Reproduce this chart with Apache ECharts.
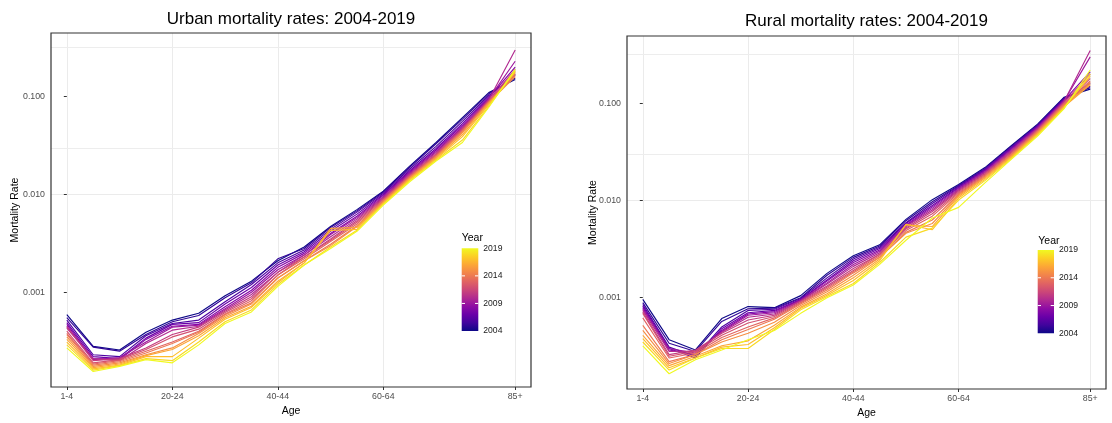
<!DOCTYPE html>
<html>
<head>
<meta charset="utf-8">
<script src="https://cdn.jsdelivr.net/npm/echarts@6/dist/echarts.min.js"></script>
<style>
  html, body { margin: 0; padding: 0; background: #ffffff; }
  #chart { width: 1112px; height: 423px; }
</style>
</head>
<body>
<div id="chart"></div>
<script>
// Age groups on the x axis and the ones that carry a tick label
const ageGroups = ['1-4', '5-9', '10-14', '15-19', '20-24', '25-29', '30-34', '35-39', '40-44',
  '45-49', '50-54', '55-59', '60-64', '65-69', '70-74', '75-79', '80-84', '85+'];
const tickAges = ['1-4', '20-24', '40-44', '60-64', '85+'];
const years = [2004, 2005, 2006, 2007, 2008, 2009, 2010, 2011, 2012, 2013, 2014, 2015, 2016, 2017, 2018, 2019];
const legendYears = [2004, 2009, 2014, 2019];
// labelled breaks on the log axis, and minor gridlines halfway between decades
const majorBreaks = [0.001, 0.01, 0.1];
const minorBreaks = [0.000316, 0.00316, 0.0316, 0.316];

// Urban mortality rate by age group, one array per year
const urban2004 = [0.00059, 0.00028, 0.000257, 0.00039, 0.00052, 0.00061, 0.00092, 0.0013, 0.0021, 0.0029, 0.0047, 0.007, 0.0108, 0.0195, 0.034, 0.061, 0.11, 0.15];
const urban2005 = [0.00055, 0.000275, 0.00025, 0.00037, 0.0005, 0.00058, 0.00088, 0.00125, 0.0022, 0.0028, 0.0046, 0.0068, 0.0106, 0.019, 0.033, 0.059, 0.107, 0.155];
const urban2006 = [0.00052, 0.00023, 0.00022, 0.00036, 0.00048, 0.00052, 0.0008, 0.0012, 0.002, 0.0027, 0.0044, 0.0066, 0.0103, 0.0182, 0.031, 0.056, 0.103, 0.165];
const urban2007 = [0.00049, 0.00022, 0.00021, 0.00034, 0.00047, 0.00049, 0.00076, 0.00112, 0.0019, 0.0026, 0.0042, 0.0063, 0.01, 0.0175, 0.0295, 0.053, 0.1, 0.17];
const urban2008 = [0.00047, 0.00021, 0.000205, 0.00033, 0.00045, 0.00047, 0.00071, 0.00105, 0.0018, 0.0025, 0.004, 0.006, 0.0098, 0.017, 0.0285, 0.051, 0.097, 0.2];
const urban2009 = [0.00045, 0.000205, 0.000215, 0.00031, 0.00044, 0.00046, 0.00068, 0.001, 0.0017, 0.0024, 0.0039, 0.0058, 0.0095, 0.0166, 0.0275, 0.049, 0.095, 0.23];
const urban2010 = [0.00043, 0.00021, 0.0002, 0.0003, 0.00041, 0.00045, 0.00066, 0.00095, 0.0016, 0.0024, 0.0037, 0.0056, 0.0093, 0.0162, 0.0268, 0.048, 0.093, 0.3];
const urban2011 = [0.00044, 0.0002, 0.00021, 0.00027, 0.00037, 0.00044, 0.00064, 0.0009, 0.0016, 0.0023, 0.0035, 0.0054, 0.0091, 0.0158, 0.026, 0.047, 0.092, 0.19];
const urban2012 = [0.0004, 0.00019, 0.000205, 0.00026, 0.00035, 0.00042, 0.00062, 0.00086, 0.0015, 0.0023, 0.0034, 0.0052, 0.0089, 0.0155, 0.0255, 0.046, 0.09, 0.18];
const urban2013 = [0.00038, 0.000185, 0.0002, 0.00025, 0.00031, 0.0004, 0.0006, 0.00082, 0.0015, 0.0022, 0.0033, 0.005, 0.0087, 0.0152, 0.025, 0.045, 0.089, 0.17];
const urban2014 = [0.00037, 0.00018, 0.000195, 0.00024, 0.0003, 0.00039, 0.00059, 0.00078, 0.0014, 0.0021, 0.0031, 0.0048, 0.0086, 0.015, 0.0245, 0.044, 0.088, 0.165];
const urban2015 = [0.00035, 0.000175, 0.00019, 0.00023, 0.00027, 0.00038, 0.00057, 0.00076, 0.0014, 0.0021, 0.003, 0.0047, 0.0084, 0.0147, 0.024, 0.043, 0.087, 0.16];
const urban2016 = [0.00033, 0.00017, 0.000185, 0.000225, 0.00026, 0.00036, 0.00055, 0.00072, 0.0013, 0.002, 0.0045, 0.0046, 0.0082, 0.0145, 0.0235, 0.041, 0.085, 0.175];
const urban2017 = [0.00031, 0.000165, 0.00018, 0.00022, 0.00022, 0.00034, 0.00053, 0.0007, 0.00125, 0.002, 0.0043, 0.0044, 0.0081, 0.0142, 0.023, 0.039, 0.083, 0.18];
const urban2018 = [0.00029, 0.00016, 0.000178, 0.00021, 0.0002, 0.00031, 0.0005, 0.00066, 0.0012, 0.0019, 0.0029, 0.0043, 0.008, 0.0139, 0.0225, 0.036, 0.08, 0.185];
const urban2019 = [0.00027, 0.000155, 0.000175, 0.000205, 0.00019, 0.00029, 0.00048, 0.00063, 0.00115, 0.0019, 0.0028, 0.0042, 0.0078, 0.0135, 0.022, 0.034, 0.078, 0.19];

// Rural mortality rate by age group, one array per year
const rural2004 = [0.00096, 0.00037, 0.00029, 0.00061, 0.00081, 0.00079, 0.00105, 0.00178, 0.0027, 0.0035, 0.0064, 0.0102, 0.0146, 0.0218, 0.0366, 0.061, 0.115, 0.14];
const rural2005 = [0.00089, 0.00034, 0.00028, 0.00057, 0.00077, 0.00078, 0.001, 0.0017, 0.0026, 0.0034, 0.0062, 0.0097, 0.0143, 0.0214, 0.036, 0.06, 0.113, 0.145];
const rural2006 = [0.00085, 0.00031, 0.00025, 0.0005, 0.00074, 0.00076, 0.00098, 0.0016, 0.0025, 0.0033, 0.0059, 0.0093, 0.014, 0.021, 0.0352, 0.059, 0.111, 0.15];
const rural2007 = [0.00082, 0.0003, 0.00024, 0.00048, 0.0007, 0.00074, 0.00096, 0.00152, 0.0024, 0.0032, 0.0058, 0.0089, 0.0137, 0.0206, 0.0345, 0.058, 0.109, 0.16];
const rural2008 = [0.00079, 0.00029, 0.00026, 0.00046, 0.00068, 0.00072, 0.00095, 0.00148, 0.0023, 0.0031, 0.0056, 0.0086, 0.0134, 0.0202, 0.0338, 0.057, 0.107, 0.21];
const rural2009 = [0.00076, 0.0003, 0.00027, 0.00045, 0.00066, 0.0007, 0.00094, 0.00142, 0.0022, 0.003, 0.0055, 0.0083, 0.0131, 0.0198, 0.033, 0.056, 0.105, 0.3];
const rural2010 = [0.00074, 0.00028, 0.00028, 0.00044, 0.00063, 0.00068, 0.00093, 0.00138, 0.0021, 0.0029, 0.0054, 0.008, 0.0128, 0.0194, 0.0322, 0.055, 0.104, 0.35];
const rural2011 = [0.00071, 0.00026, 0.00029, 0.00043, 0.00059, 0.00066, 0.00092, 0.00132, 0.002, 0.0028, 0.0052, 0.0077, 0.0125, 0.019, 0.0315, 0.054, 0.102, 0.2];
const rural2012 = [0.00069, 0.00025, 0.00028, 0.00041, 0.00055, 0.00064, 0.0009, 0.00128, 0.0019, 0.0028, 0.0051, 0.0073, 0.0122, 0.0186, 0.0308, 0.053, 0.1, 0.18];
const rural2013 = [0.00062, 0.00024, 0.00027, 0.00039, 0.0005, 0.00062, 0.00088, 0.00124, 0.00185, 0.0027, 0.0049, 0.0069, 0.0119, 0.0182, 0.03, 0.052, 0.098, 0.17];
const rural2014 = [0.00052, 0.00022, 0.00026, 0.00037, 0.00047, 0.0006, 0.00086, 0.0012, 0.0018, 0.0026, 0.0047, 0.0063, 0.0116, 0.0178, 0.0294, 0.051, 0.096, 0.165];
const rural2015 = [0.00046, 0.00021, 0.00026, 0.00035, 0.00043, 0.00056, 0.00083, 0.00115, 0.0017, 0.0026, 0.0046, 0.0058, 0.0113, 0.0174, 0.0288, 0.05, 0.094, 0.16];
const rural2016 = [0.00041, 0.0002, 0.00025, 0.00032, 0.00036, 0.00052, 0.0008, 0.0011, 0.0016, 0.0025, 0.0056, 0.0054, 0.011, 0.017, 0.0282, 0.049, 0.092, 0.155];
const rural2017 = [0.00038, 0.00019, 0.00024, 0.00031, 0.00033, 0.00049, 0.00078, 0.00106, 0.0015, 0.0024, 0.0057, 0.005, 0.0106, 0.0165, 0.0276, 0.048, 0.09, 0.19];
const rural2018 = [0.00035, 0.00018, 0.00024, 0.0003, 0.0003, 0.00047, 0.00075, 0.00103, 0.0014, 0.0023, 0.0042, 0.0052, 0.0101, 0.016, 0.027, 0.047, 0.089, 0.2];
const rural2019 = [0.00032, 0.000165, 0.00023, 0.00029, 0.00037, 0.00046, 0.00069, 0.001, 0.00135, 0.0022, 0.0039, 0.0066, 0.0085, 0.0152, 0.0265, 0.046, 0.0875, 0.22];

const urbanRows = [urban2004, urban2005, urban2006, urban2007, urban2008, urban2009, urban2010, urban2011,
  urban2012, urban2013, urban2014, urban2015, urban2016, urban2017, urban2018, urban2019];
const ruralRows = [rural2004, rural2005, rural2006, rural2007, rural2008, rural2009, rural2010, rural2011,
  rural2012, rural2013, rural2014, rural2015, rural2016, rural2017, rural2018, rural2019];

// plasma colour scale, one colour per year (2004 -> 2019)
const yearColors = ['#0d0887', '#310597', '#4c02a1', '#6a00a8', '#8405a7', '#9c179e', '#b12a90', '#c33d80',
  '#d35171', '#e16462', '#ed7953', '#f68f44', '#fca636', '#febd2a', '#f9d924', '#f0f921'];
const plasmaStops = ['#f0f921', '#fcce25', '#fca636', '#f2844b', '#e16462', '#cc4778', '#b12a90', '#8f0da4', '#6a00a8', '#41049d', '#0d0887'];

const FONT = '"Liberation Sans", Arial, Helvetica, sans-serif';

// panel layout (pixels) and axis ranges
const panels = [
  {
    title: 'Urban mortality rates: 2004-2019', titleY: 19.5, rows: urbanRows, yNameGap: 30,
    rect: { left: 51, top: 33, width: 480, height: 354 },
    yMin: 0.0001076, yMax: 0.4477,
    legend: { boxX: 456.5, boxY: 229, boxW: 52, boxH: 109, barX: 461.7, barY: 248.3, barW: 16.6, barH: 82.7, titleX: 461.7, titleY: 238.3 }
  },
  {
    title: 'Rural mortality rates: 2004-2019', titleY: 21.7, rows: ruralRows, yNameGap: 28,
    rect: { left: 627, top: 36, width: 479, height: 353 },
    yMin: 0.000115, yMax: 0.4924,
    legend: { boxX: 1031.7, boxY: 231, boxW: 52.6, boxH: 109, barX: 1037.7, barY: 250, barW: 16.3, barH: 83.3, titleX: 1038.3, titleY: 241 }
  }
];

const tickIdx = tickAges.map(a => ageGroups.indexOf(a));

function isDecade(v) {
  const l = Math.log10(v);
  return Math.abs(l - Math.round(l)) < 1e-6;
}

const grids = [], xAxes = [], yAxes = [], series = [], graphics = [];

panels.forEach((p, pi) => {
  grids.push({ left: p.rect.left, top: p.rect.top, width: p.rect.width, height: p.rect.height,
    show: false, containLabel: false, outerBoundsMode: 'none' });

  xAxes.push({
    type: 'value', gridIndex: pi, min: -0.6, max: 17.6,
    name: 'Age', nameLocation: 'middle', nameGap: 19, nameMoveOverlap: false,
    nameTextStyle: { color: '#000', fontSize: 10.5, fontFamily: FONT },
    axisLine: { show: false },
    axisTick: { show: true, length: 3, customValues: tickIdx, lineStyle: { color: '#333', width: 1 } },
    axisLabel: { customValues: tickIdx, formatter: v => ageGroups[Math.round(v)] || '',
      color: '#4d4d4d', fontSize: 8.8, fontFamily: FONT, margin: 5 },
    splitLine: { show: true, lineStyle: { color: '#ebebeb', width: 1 } }
  });

  yAxes.push({
    type: 'log', logBase: 10, gridIndex: pi, min: p.yMin, max: p.yMax,
    name: 'Mortality Rate', nameLocation: 'middle', nameGap: p.yNameGap, nameMoveOverlap: false,
    nameTextStyle: { color: '#000', fontSize: 10.5, fontFamily: FONT },
    axisLine: { show: false },
    axisTick: { show: true, length: 3, customValues: majorBreaks, lineStyle: { color: '#333', width: 1 } },
    axisLabel: { customValues: majorBreaks, formatter: v => (isDecade(v) ? v.toFixed(3) : ''), color: '#4d4d4d',
      fontSize: 8.8, fontFamily: FONT, margin: 6 },
    splitLine: { show: true, showMinLine: false, showMaxLine: false, lineStyle: { color: '#ebebeb', width: 1 } }
  });

  // minor gridlines under the data
  series.push({
    type: 'line', xAxisIndex: pi, yAxisIndex: pi, data: [], z: 1, silent: true,
    markLine: {
      silent: true, symbol: 'none', z: 1, animation: false,
      label: { show: false },
      lineStyle: { color: '#ededed', width: 1, type: 'solid' },
      emphasis: { disabled: true },
      data: minorBreaks.map(v => ({ yAxis: v }))
    }
  });

  p.rows.forEach((row, k) => {
    series.push({
      type: 'line', name: String(years[k]), xAxisIndex: pi, yAxisIndex: pi, z: 2,
      data: ageGroups.map((a, j) => [j, row[j]]),
      showSymbol: false, symbol: 'none', silent: true,
      lineStyle: { color: yearColors[k], width: 1.15, opacity: 1 },
      itemStyle: { color: yearColors[k] },
      emphasis: { disabled: true }
    });
  });

  // panel title
  graphics.push({
    type: 'text', z: 60, x: p.rect.left + p.rect.width / 2, y: p.titleY,
    style: { text: p.title, fill: '#000', font: '17px ' + FONT, align: 'center', verticalAlign: 'middle',
      textAlign: 'center', textVerticalAlign: 'middle' }
  });
  // panel border
  graphics.push({
    type: 'rect', z: 50, silent: true,
    shape: { x: p.rect.left, y: p.rect.top, width: p.rect.width, height: p.rect.height },
    style: { fill: 'none', stroke: '#333333', lineWidth: 1.2 }
  });

  // colour bar legend
  const L = p.legend;
  graphics.push({
    type: 'rect', z: 40, silent: true,
    shape: { x: L.boxX, y: L.boxY, width: L.boxW, height: L.boxH },
    style: { fill: '#ffffff' }
  });
  graphics.push({
    type: 'text', z: 41, x: L.titleX, y: L.titleY,
    style: { text: 'Year', fill: '#000', font: '10.5px ' + FONT, align: 'left', verticalAlign: 'middle',
      textAlign: 'left', textVerticalAlign: 'middle' }
  });
  graphics.push({
    type: 'rect', z: 41, silent: true,
    shape: { x: L.barX, y: L.barY, width: L.barW, height: L.barH },
    style: {
      fill: {
        type: 'linear', x: 0, y: 0, x2: 0, y2: 1,
        colorStops: plasmaStops.map((c, i) => ({ offset: i / (plasmaStops.length - 1), color: c }))
      }
    }
  });
  const yrMin = years[0], yrMax = years[years.length - 1];
  legendYears.forEach(yr => {
    const ty = L.barY + (yrMax - yr) / (yrMax - yrMin) * L.barH;
    graphics.push({
      type: 'text', z: 42, x: L.barX + L.barW + 5, y: ty,
      style: { text: String(yr), fill: '#1a1a1a', font: '8.6px ' + FONT, align: 'left', verticalAlign: 'middle',
        textAlign: 'left', textVerticalAlign: 'middle' }
    });
    if (yr !== yrMin && yr !== yrMax) {
      graphics.push({
        type: 'line', z: 42, silent: true,
        shape: { x1: L.barX, y1: ty, x2: L.barX + 3.3, y2: ty },
        style: { stroke: '#ffffff', lineWidth: 1 }
      });
      graphics.push({
        type: 'line', z: 42, silent: true,
        shape: { x1: L.barX + L.barW - 3.3, y1: ty, x2: L.barX + L.barW, y2: ty },
        style: { stroke: '#ffffff', lineWidth: 1 }
      });
    }
  });
});

const chart = echarts.init(document.getElementById('chart'), null, { renderer: 'canvas' });
chart.setOption({
  animation: false,
  backgroundColor: '#ffffff',
  textStyle: { fontFamily: FONT },
  grid: grids,
  xAxis: xAxes,
  yAxis: yAxes,
  series: series,
  graphic: { elements: graphics }
});
</script>
</body>
</html>
